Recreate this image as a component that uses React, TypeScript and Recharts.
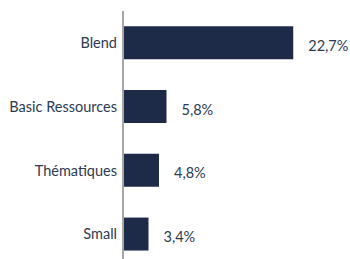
import { Bar, BarChart, LabelList, XAxis, YAxis } from 'recharts';

const categories = ['Blend', 'Basic Ressources', 'Thématiques', 'Small'];
const weights = [22.7, 5.8, 4.8, 3.4];

const data = categories.map((name, i) => ({ name, value: weights[i] }));

const TEXT = '#2e3a52';
const FONT = 'Lato, "Open Sans", sans-serif';

const fmt = (v: number) => `${v.toFixed(1).replace('.', ',')}%`;

export default function App() {
  return (
    <div style={{ position: 'absolute', left: 0, top: 0, width: 350, height: 259, overflow: 'hidden', background: '#fff' }}>
      <BarChart
        width={350}
        height={266}
        data={data}
        layout="vertical"
        margin={{ top: 11, right: 2, bottom: 0, left: 0 }}
        barCategoryGap="24%"
      >
        <XAxis type="number" domain={[0, 30]} hide />
        <YAxis
          type="category"
          dataKey="name"
          width={123}
          tickLine={false}
          tickSize={0}
          tickMargin={6}
          axisLine={{ stroke: '#a6a6a6', strokeWidth: 2 }}
          tick={{ fill: TEXT, fontSize: 14.5, fontFamily: FONT }}
        />
        <Bar dataKey="value" fill="#1e2b48" isAnimationActive={false}>
          <LabelList
            dataKey="value"
            position="right"
            offset={15}
            dy={3}
            formatter={(v: any) => fmt(Number(v))}
            style={{ fill: TEXT, fontSize: 14.5, fontFamily: FONT }}
          />
        </Bar>
      </BarChart>
    </div>
  );
}
